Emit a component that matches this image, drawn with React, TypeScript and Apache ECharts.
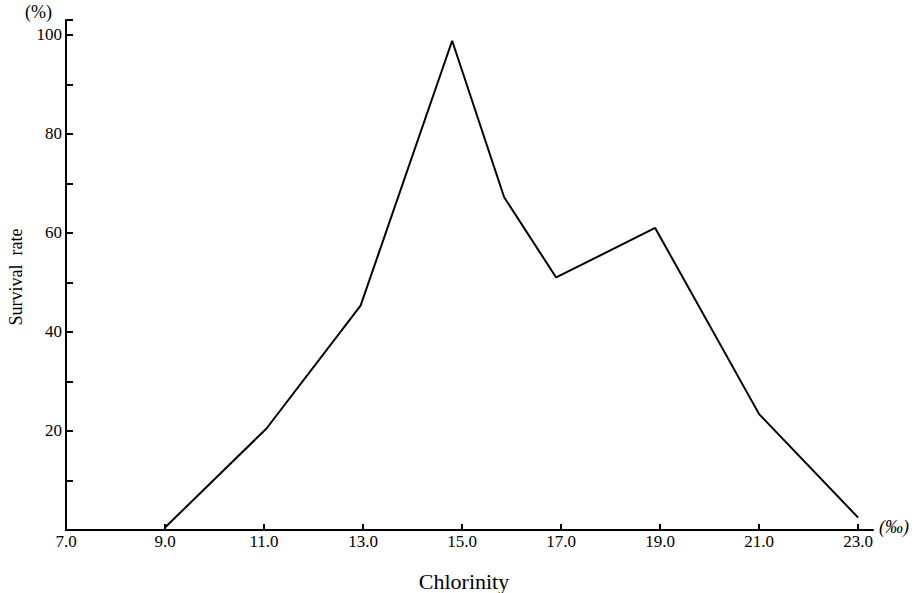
import React, { useEffect, useRef } from "react";
import * as echarts from "echarts";

const chlorinity = [9.0, 11.05, 12.95, 14.8, 15.85, 16.9, 18.9, 21.0, 23.0];
const survival = [0.5, 20.5, 45.3, 98.8, 67.2, 51.0, 61.0, 23.4, 2.5];
const xTickLabels = ["7.0", "9.0", "11.0", "13.0", "15.0", "17.0", "19.0", "21.0", "23.0"];
const yTickLabels = ["20", "40", "60", "80", "100"];

const SERIF = "'Liberation Serif', 'DejaVu Serif', serif";

export default function App() {
  const ref = useRef<HTMLDivElement>(null);
  useEffect(() => {
    if (!ref.current) return;
    const chart = echarts.init(ref.current, undefined, { renderer: "svg" });
    const data = chlorinity.map((x, i) => [x, survival[i]]);
    chart.setOption({
      animation: false,
      backgroundColor: "#ffffff",
      grid: { left: 66, right: 48, top: 20, bottom: 63, containLabel: false },
      xAxis: {
        type: "value",
        min: 7,
        max: 23.3,
        interval: 2,
        splitLine: { show: false },
        axisLine: { lineStyle: { color: "#000", width: 2 } },
        axisTick: { inside: true, length: 6, lineStyle: { color: "#000", width: 2 } },
        axisLabel: {
          margin: 3,
          color: "#000",
          fontFamily: SERIF,
          fontSize: 17,
          formatter: (v: number) => {
            const idx = Math.round((v - 7) / 2);
            return xTickLabels[idx] ?? "";
          },
        },
      },
      yAxis: {
        type: "value",
        min: 0,
        max: 103,
        interval: 10,
        splitLine: { show: false },
        axisLine: { onZero: false, lineStyle: { color: "#000", width: 2 } },
        axisTick: { inside: true, length: 7, lineStyle: { color: "#000", width: 2 } },
        axisLabel: {
          margin: 4,
          color: "#000",
          fontFamily: SERIF,
          fontSize: 17,
          formatter: (v: number) => {
            const s = String(Math.round(v));
            return yTickLabels.includes(s) ? s : "";
          },
        },
      },
      series: [
        {
          type: "line",
          data,
          symbol: "none",
          lineStyle: { color: "#000", width: 2 },
        },
      ],
      graphic: [
        {
          type: "text",
          left: 25,
          top: 3,
          style: { text: "(%)", font: `18px ${SERIF}`, fill: "#000" },
        },
        {
          type: "text",
          x: 16,
          y: 277,
          rotation: Math.PI / 2,
          style: {
            text: "Survival  rate",
            font: `18px ${SERIF}`,
            fill: "#000",
            align: "center",
            verticalAlign: "middle",
          },
        },
        {
          type: "text",
          x: 879,
          y: 527,
          style: {
            text: "(‰)",
            font: `italic 18px ${SERIF}`,
            fill: "#000",
            align: "left",
            verticalAlign: "middle",
          },
        },
        {
          type: "text",
          x: 464,
          y: 581,
          style: {
            text: "Chlorinity",
            font: `22px ${SERIF}`,
            fill: "#000",
            align: "center",
            verticalAlign: "middle",
          },
        },
      ],
    });
    return () => chart.dispose();
  }, []);
  return <div ref={ref} style={{ width: 921, height: 593, position: "absolute", left: 0, top: 0 }} />;
}
